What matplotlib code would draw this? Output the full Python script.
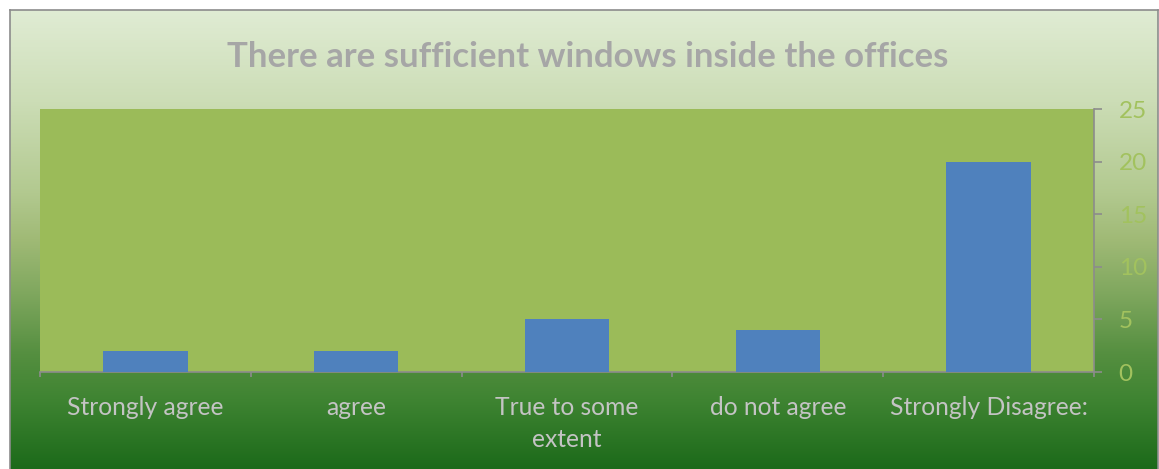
import numpy as np
import matplotlib
matplotlib.use("Agg")
import matplotlib.pyplot as plt
from matplotlib.colors import LinearSegmentedColormap

plt.rcParams["font.family"] = ["Lato", "DejaVu Sans"]

categories = ["Strongly agree", "agree", "True to some\nextent", "do not agree", "Strongly Disagree:"]
values = [2, 2, 5, 4, 20]
yticks = [0, 5, 10, 15, 20, 25]
title = "There are sufficient windows inside the offices"

W, H = 1159, 469
fig = plt.figure(figsize=(W / 100, H / 100), dpi=100)
fig.patch.set_facecolor("white")

# background gradient panel
bg = fig.add_axes([10 / W, 0, (W - 11) / W, (H - 10) / H])
cmap = LinearSegmentedColormap.from_list(
    "g", [(0.0, "#E0ECD4"), (0.2, "#CCDDB6"), (0.4, "#B2C98F"), (0.5, "#A0BA76"),
          (0.62, "#7FA75E"), (0.75, "#558F40"), (0.85, "#3F8432"), (1.0, "#1C6A1A")])
grad = np.linspace(0, 1, 256).reshape(-1, 1)
bg.imshow(grad, aspect="auto", cmap=cmap, extent=[0, 1, 0, 1], origin="upper")
bg.set_xlim(0, 1)
bg.set_ylim(0, 1)
bg.set_xticks([])
bg.set_yticks([])
for s in ["left", "top", "right"]:
    bg.spines[s].set_color("#8C8C8C")
    bg.spines[s].set_linewidth(1.2)
bg.spines["bottom"].set_visible(False)

# plot area
x0, x1 = 40, 1094
y0, y1 = 109, 372
ax = fig.add_axes([x0 / W, (H - y1) / H, (x1 - x0) / W, (y1 - y0) / H])
ax.set_facecolor("#9BBB59")
x = np.arange(len(categories))
ax.bar(x, values, width=0.4, color="#4F81BD", zorder=3)
ax.set_xlim(-0.5, len(categories) - 0.5)
ax.set_ylim(0, 25)
ax.set_yticks(yticks)
ax.yaxis.tick_right()
ax.tick_params(axis="y", which="major", direction="out", length=5.8, width=1.2,
               color="#8C8C8C", labelcolor="#A2C25E", labelsize=17.5, pad=12)
ax.set_xticks(x)
ax.set_xticklabels(categories, color="#C4C4C4", fontsize=17.7, linespacing=1.45)
ax.tick_params(axis="x", which="major", length=0, pad=17.5)
ax.set_xticks(np.arange(-0.5, len(categories)), minor=True)
ax.tick_params(axis="x", which="minor", direction="out", length=3.8, width=1.2, color="#8C8C8C")
for s in ["left", "top"]:
    ax.spines[s].set_visible(False)
for s in ["right", "bottom"]:
    ax.spines[s].set_color("#8C8C8C")
    ax.spines[s].set_linewidth(1.2)

fig.text(588 / W, 1 - 67 / H, title, ha="center", va="baseline",
         fontsize=25, fontweight="bold", color="#A6A6A6")

fig.savefig("out.png", dpi=100)
